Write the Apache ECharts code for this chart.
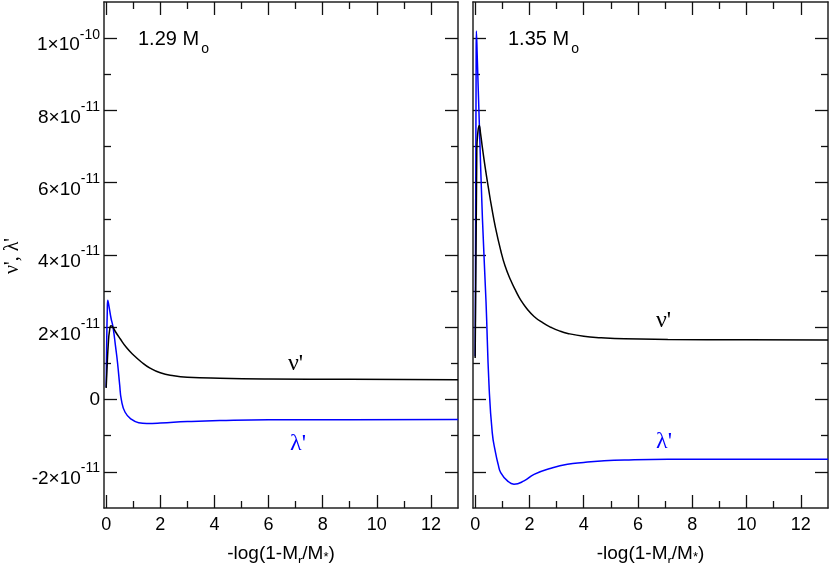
<!DOCTYPE html>
<html>
<head>
<meta charset="utf-8">
<script src="https://cdn.jsdelivr.net/npm/echarts@6/dist/echarts.min.js"></script>
<style>
  html, body { margin: 0; padding: 0; background: #fff; }
  #chart { width: 830px; height: 563px; }
</style>
</head>
<body>
<div id="chart"></div>
<script>
/* Two panels: nu' and lambda' vs -log(1-Mr/M*), for 1.29 and 1.35 Msun.
   y values are in units of 1e-11. */

// ---- data ----
const X_MIN = -0.08;
const X_MAX = 13;
const X_MAJOR = [0, 2, 4, 6, 8, 10, 12];
const X_MINOR = [1, 3, 5, 7, 9, 11];
const Y_MIN = -3;
const Y_MAX = 11;
const Y_MAJOR = [-2, 0, 2, 4, 6, 8, 10];
const Y_MINOR = [-1, 1, 3, 5, 7, 9];
const Y_LABEL_BASE = ["-2×10", "0", "2×10", "4×10", "6×10", "8×10", "1×10"];
const Y_LABEL_EXP = ["-11", "", "-11", "-11", "-11", "-11", "-10"];
const PANEL_TITLES = ["1.29 M", "1.35 M"];

const NU_129 = [[0, 0.32], [0.04, 1.0], [0.08, 1.55], [0.12, 1.88], [0.18, 2.04],
  [0.25, 2.0], [0.35, 1.87], [0.51, 1.69], [0.75, 1.44], [1.0, 1.24], [1.3, 1.04],
  [1.62, 0.87], [2.0, 0.74], [2.5, 0.66], [3.0, 0.62], [4.2, 0.59], [6, 0.57],
  [9, 0.56], [13, 0.55]];
const LAM_129 = [[0, 0.34], [0.02, 1.6], [0.04, 2.4], [0.06, 2.75], [0.1, 2.6],
  [0.18, 2.25], [0.25, 2.02], [0.35, 1.45], [0.42, 1.02], [0.5, 0.4], [0.56, 0.0],
  [0.7, -0.35], [0.94, -0.55], [1.2, -0.64], [1.5, -0.66], [2.0, -0.65], [3, -0.61],
  [4.2, -0.58], [6, -0.56], [9, -0.56], [13, -0.55]];
const NU_135 = [[0, 1.15], [0.06, 6.9], [0.1, 7.4], [0.15, 7.58], [0.2, 7.35],
  [0.27, 6.95], [0.37, 6.42], [0.5, 5.8], [0.6, 5.35], [0.75, 4.75], [0.94, 4.13],
  [1.1, 3.7], [1.31, 3.3], [1.5, 3.0], [1.68, 2.75], [1.9, 2.52], [2.17, 2.3],
  [2.5, 2.12], [2.79, 2.0], [3.1, 1.9], [3.41, 1.83], [4.0, 1.75], [4.64, 1.71],
  [5.5, 1.68], [7.1, 1.665], [10, 1.655], [13, 1.65]];
const LAM_135 = [[0, 1.2], [0.02, 5.5], [0.035, 9.2], [0.045, 10.2], [0.08, 9.4],
  [0.15, 7.7], [0.27, 4.96], [0.4, 2.7], [0.51, 0.4], [0.63, -0.92], [0.75, -1.47],
  [0.85, -1.8], [0.94, -2.02], [1.19, -2.25], [1.43, -2.34], [1.8, -2.25],
  [2.17, -2.07], [2.8, -1.9], [3.4, -1.79], [4.0, -1.74], [4.64, -1.7],
  [5.5, -1.67], [7.1, -1.65], [10, -1.65], [13, -1.65]];

// ---- style ----
const SANS = "Liberation Sans";
const SERIF = "Liberation Serif";
const BLUE = "#0000ff";
const FRAME = { show: true, onZero: false, lineStyle: { color: "#222", width: 1.5 } };
const NO_LINE = { show: false, onZero: false };

function ticks(values, len) {
  return { show: true, inside: true, length: len, customValues: values,
    lineStyle: { color: "#111", width: 1.3 } };
}

function xAxes(g) {
  const base = { gridIndex: g, type: "value", min: X_MIN, max: X_MAX, splitLine: { show: false } };
  return [
    Object.assign({}, base, {
      position: "bottom", axisLine: FRAME, axisTick: ticks(X_MAJOR, 13),
      axisLabel: { customValues: X_MAJOR, margin: 8, color: "#000", fontSize: 18, fontFamily: SANS },
      name: "-log(1-M{r|r}/M{a|*})", nameLocation: "middle", nameGap: 27,
      nameTextStyle: {
        color: "#000", fontSize: 19, fontFamily: SANS, lineHeight: 22,
        rich: {
          r: { fontSize: 13, lineHeight: 13, fontFamily: SANS, padding: [16, 0, 0, 0] },
          a: { fontSize: 13, lineHeight: 13, fontFamily: SANS, padding: [8, 0, 0, 0] },
        },
      },
    }),
    Object.assign({}, base, { position: "bottom", axisLine: NO_LINE, axisTick: ticks(X_MINOR, 7), axisLabel: { show: false } }),
    Object.assign({}, base, { position: "top", axisLine: FRAME, axisTick: ticks(X_MAJOR, 13), axisLabel: { show: false } }),
    Object.assign({}, base, { position: "top", axisLine: NO_LINE, axisTick: ticks(X_MINOR, 7), axisLabel: { show: false } }),
  ];
}

function yAxes(g) {
  const base = { gridIndex: g, type: "value", min: Y_MIN, max: Y_MAX, splitLine: { show: false } };
  const label = g === 0 ? {
    customValues: Y_MAJOR, margin: 4, color: "#000",
    formatter: (v) => {
      const i = Y_MAJOR.indexOf(v);
      return Y_LABEL_EXP[i] ? "{n|" + Y_LABEL_BASE[i] + "}{s|" + Y_LABEL_EXP[i] + "}" : "{z|" + Y_LABEL_BASE[i] + "}";
    },
    rich: {
      n: { fontSize: 19, lineHeight: 19, fontFamily: SANS, color: "#000", padding: [14, 0, 0, 0] },
      s: { fontSize: 14, lineHeight: 14, fontFamily: SANS, color: "#000", padding: [0, 0, 7, 0] },
      z: { fontSize: 19, lineHeight: 19, fontFamily: SANS, color: "#000" },
    },
  } : { show: false };
  return [
    Object.assign({}, base, { position: "left", axisLine: FRAME, axisTick: ticks(Y_MAJOR, 13), axisLabel: label }),
    Object.assign({}, base, { position: "left", axisLine: NO_LINE, axisTick: ticks(Y_MINOR, 7), axisLabel: { show: false } }),
    Object.assign({}, base, { position: "right", axisLine: FRAME, axisTick: ticks(Y_MAJOR, 13), axisLabel: { show: false } }),
    Object.assign({}, base, { position: "right", axisLine: NO_LINE, axisTick: ticks(Y_MINOR, 7), axisLabel: { show: false } }),
  ];
}

function curve(g, data, color) {
  return {
    type: "line", xAxisIndex: g * 4, yAxisIndex: g * 4, data: data,
    showSymbol: false, smooth: 0.5, silent: true,
    lineStyle: { color: color, width: 1.5 },
  };
}

function label(x, y, text, color, size) {
  return {
    type: "text", x: x, y: y, silent: true,
    style: { text: text, fill: color, font: size + "px '" + SERIF + "'", align: "left", verticalAlign: "middle" },
  };
}

function title(x, text) {
  return {
    type: "text", x: x, y: 39, silent: true,
    style: {
      text: text + "{o|o}", fill: "#000", font: "20px '" + SANS + "'", lineHeight: 22,
      align: "left", verticalAlign: "middle",
      rich: { o: { font: "14px '" + SANS + "'", lineHeight: 14, fill: "#000", padding: [20, 0, 0, 2] } },
    },
  };
}

const chart = echarts.init(document.getElementById("chart"), null, { renderer: "canvas" });
chart.setOption({
  animation: false,
  backgroundColor: "#fff",
  grid: [
    { left: 104, top: 2, width: 354, height: 506, outerBoundsMode: "none" },
    { left: 473, top: 2, width: 355, height: 506, outerBoundsMode: "none" },
  ],
  xAxis: xAxes(0).concat(xAxes(1)),
  yAxis: yAxes(0).concat(yAxes(1)),
  series: [
    curve(0, LAM_129, BLUE), curve(0, NU_129, "#000"),
    curve(1, LAM_135, BLUE), curve(1, NU_135, "#000"),
  ],
  graphic: [
    title(138, PANEL_TITLES[0]),
    title(508, PANEL_TITLES[1]),
    label(288, 364, "ν'", "#000", 24),
    label(290, 444, "λ'", BLUE, 24),
    label(656, 321, "ν'", "#000", 24),
    label(656, 442, "λ'", BLUE, 24),
    {
      type: "text", x: 13, y: 256, rotation: Math.PI / 2, silent: true,
      style: { text: "ν', λ'", fill: "#000", font: "20px '" + SERIF + "'", align: "center", verticalAlign: "middle" },
    },
  ],
});
window.addEventListener("resize", () => chart.resize());
</script>
</body>
</html>
